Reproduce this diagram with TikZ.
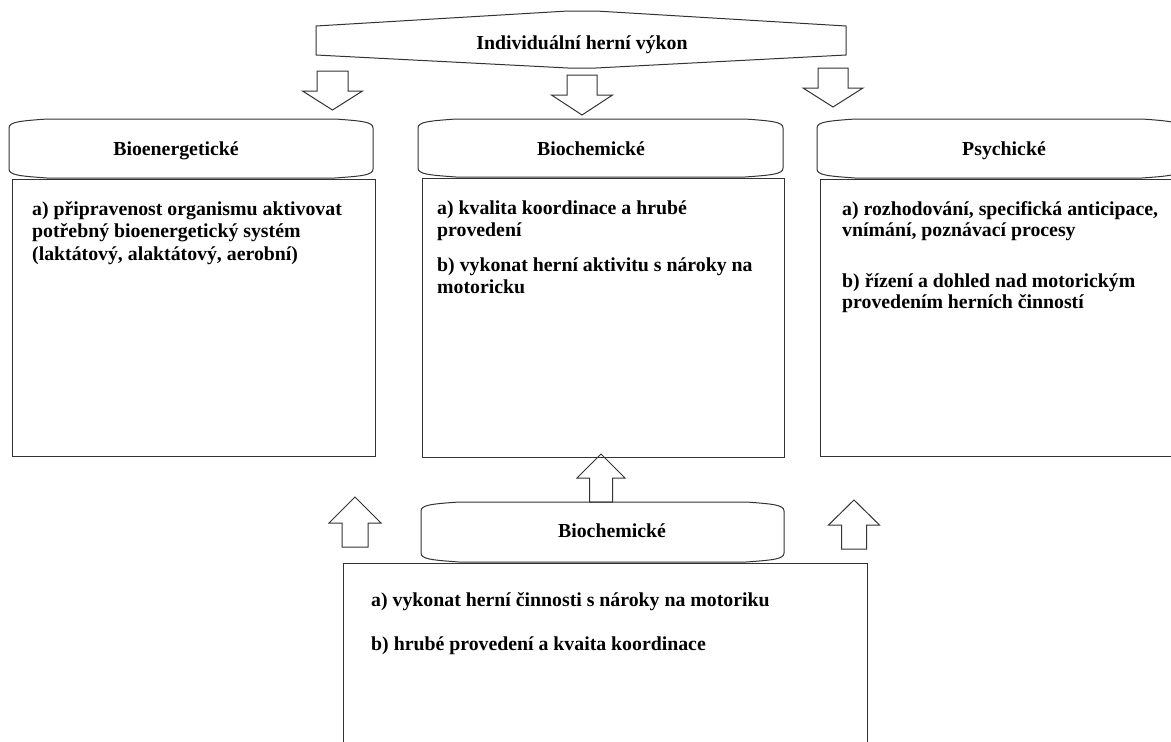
\documentclass[tikz,border=0pt]{standalone}
\usepackage{fontspec}
\setmainfont{Liberation Serif}
\tikzset{
  shapeline/.style={draw=black!80, line width=1pt, line join=miter},
  txt/.style={font=\bfseries\fontsize{19.8}{21.5}\selectfont, inner sep=0pt, align=left, anchor=north west},
  headtxt/.style={font=\bfseries\fontsize{19.8}{21.5}\selectfont, inner sep=0pt, anchor=base}
}
% header with bent top and bottom: x1, y1, x2, y2
\newcommand\hdshape[4]{%
\draw[shapeline] (#1,#2+9) .. controls (#1,#2+3) and (#1+10,#2+2) .. (#1+38,#2) -- (#3-38,#2)
  .. controls (#3-10,#2+2) and (#3,#2+3) .. (#3,#2+9) -- (#3,#4-9)
  .. controls (#3,#4-3) and (#3-10,#4-2) .. (#3-38,#4) -- (#1+38,#4)
  .. controls (#1+10,#4-2) and (#1,#4-3) .. (#1,#4-9) -- cycle;}
% hollow block arrow: centre x, shaft half, head half, tail y, head base y, tip y
\newcommand\blkarrow[6]{%
\draw[shapeline] (#1-#2,#4) -- (#1+#2,#4) -- (#1+#2,#5) -- (#1+#3,#5) -- (#1,#6) -- (#1-#3,#5) -- (#1-#2,#5) -- cycle;}
\begin{document}
\begin{tikzpicture}[x=1pt,y=-1pt]
\useasboundingbox (0,0) rectangle (1171,742);
\clip (0,0) rectangle (1171,742);
% banner
\draw[shapeline] (316,26) -- (568,11) -- (596,11) -- (846,26) -- (846,55) -- (596,68) -- (568,68) -- (316,55) -- cycle;
\node[headtxt] (perf) at (582,49) {Individuální herní výkon};
% arrows down
\blkarrow{332.5}{15.5}{30}{71}{91}{110}
\blkarrow{582}{15}{30.5}{75}{95}{115}
\blkarrow{833}{15}{30}{68}{88}{107}
% top row
\hdshape{9}{119}{373}{178}
\hdshape{418}{119}{783}{177}
\hdshape{817}{119}{1180}{178}
\draw[shapeline] (12,179) rectangle (375,456);
\draw[shapeline] (422,178) rectangle (784,457);
\draw[shapeline] (820,179) rectangle (1180,456);
\node[headtxt] (hbio) at (176,155) {Bioenergetické};
\node[headtxt] (hchem) at (591,155) {Biochemické};
\node[headtxt] (hpsy) at (1004,155) {Psychické};
\node[txt] (bioa) at (32,201) {a) připravenost organismu aktivovat\\[1pt]potřebný bioenergetický systém\\[1pt](laktátový, alaktátový, aerobní)};
\node[txt] (chema) at (437,201) {a) kvalita koordinace a hrubé\\provedení};
\node[txt] (chemb) at (437,258) {b) vykonat herní aktivitu s nároky na\\motoricku};
\node[txt] (psya) at (842,201) {a) rozhodování, specifická anticipace,\\vnímání, poznávací procesy};
\node[txt] (psyb) at (842,273) {b) řízení a dohled nad motorickým\\provedením herních činností};
% arrows up
\blkarrow{355}{13}{26}{547}{523}{497}
\blkarrow{601}{11.5}{24}{502}{478}{454}
\blkarrow{854}{12.5}{25.5}{549}{525}{500}
% bottom
\hdshape{421}{502}{784}{562}
\draw[shapeline] (343,563) rectangle (867,760);
\node[headtxt] (hlow) at (612,537) {Biochemické};
\node[txt] (lowa) at (371,592) {a) vykonat herní činnosti s nároky na motoriku};
\node[txt] (lowb) at (371,637) {b) hrubé provedení a kvaita koordinace};
\end{tikzpicture}
\end{document}
